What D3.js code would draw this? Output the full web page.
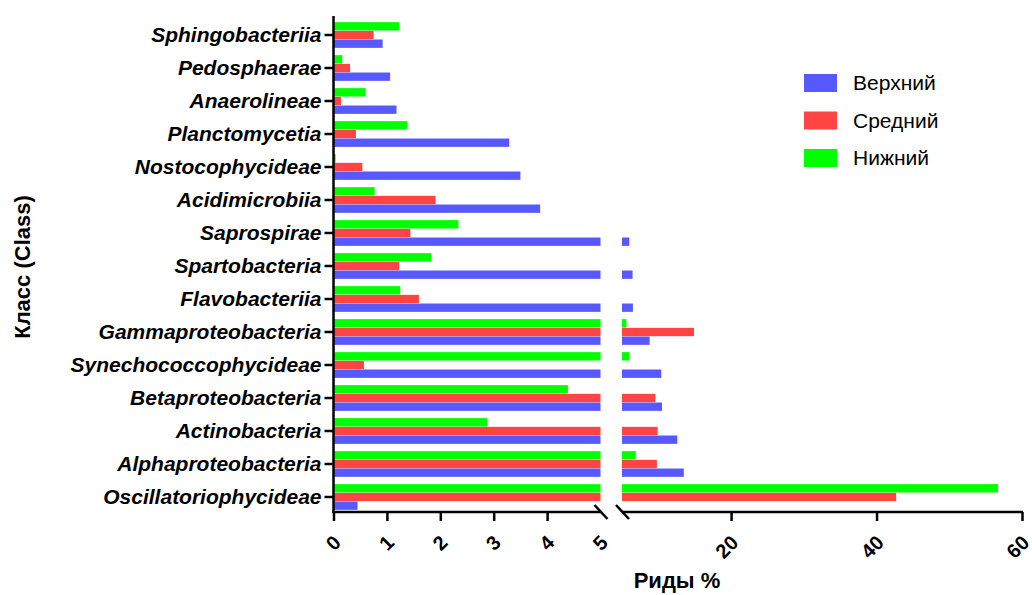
<!DOCTYPE html>
<html>
<head>
<meta charset="utf-8">
<script src="https://cdn.jsdelivr.net/npm/d3@7"></script>
<style>
  body { margin: 0; background: #fff; }
  text { font-family: "Liberation Sans", Arial, sans-serif; }
</style>
</head>
<body>
<div id="chart"></div>
<script>
// classes, top to bottom
var classes = ["Sphingobacteriia", "Pedosphaerae", "Anaerolineae", "Planctomycetia",
  "Nostocophycideae", "Acidimicrobiia", "Saprospirae", "Spartobacteria", "Flavobacteriia",
  "Gammaproteobacteria", "Synechococcophycideae", "Betaproteobacteria", "Actinobacteria",
  "Alphaproteobacteria", "Oscillatoriophycideae"];

// reads %, by layer
var verkhniy = [0.92, 1.06, 1.18, 3.29, 3.5, 3.87, 6.0, 6.45, 6.5, 8.8, 10.4, 10.5, 12.6, 13.5, 0.45];
var sredniy  = [0.75, 0.31, 0.14, 0.42, 0.54, 1.91, 1.44, 1.23, 1.6, 14.9, 0.57, 9.6, 9.9, 9.8, 42.7];
var nizhniy  = [1.23, 0.165, 0.6, 1.38, 0.04, 0.77, 2.34, 1.83, 1.25, 5.6, 6.0, 4.39, 2.88, 6.9, 56.7];

var seriesNames = ["Верхний", "Средний", "Нижний"];
var seriesColors = ["#5858ff", "#ff4444", "#00ff00"];
var seriesValues = [verkhniy, sredniy, nizhniy];

var ticks1 = [0, 1, 2, 3, 4, 5];
var ticks2 = [20, 40, 60];
var breakAt = 5;

var width = 1032, height = 595;
var svg = d3.select("#chart").append("svg")
    .attr("width", width)
    .attr("height", height);

var x1 = d3.scaleLinear().domain([0, breakAt]).range([333.5, 600.5]);
var x2 = d3.scaleLinear().domain([breakAt, 60]).range([622, 1022]);
var axisY = 512;

var y = d3.scaleBand()
    .domain(classes)
    .range([18.5, 513.5])
    .paddingInner(0.2)
    .paddingOuter(0.1);

// green on top, then red, then blue
var ySub = d3.scaleBand()
    .domain(["Нижний", "Средний", "Верхний"])
    .range([0, y.bandwidth()])
    .padding(0.04);

var bars = [];
classes.forEach(function(c, i) {
  seriesNames.forEach(function(s, j) {
    bars.push({cls: c, series: s, value: seriesValues[j][i], color: seriesColors[j]});
  });
});

var gBars = svg.append("g");
// first segment 0..5
gBars.selectAll("rect.seg1")
  .data(bars)
  .enter()
  .append("rect")
    .attr("class", "seg1")
    .attr("x", x1(0))
    .attr("y", function(d) { return y(d.cls) + ySub(d.series); })
    .attr("width", function(d) { return x1(Math.min(d.value, breakAt)) - x1(0); })
    .attr("height", ySub.bandwidth())
    .attr("fill", function(d) { return d.color; });

// second segment 5..60
gBars.selectAll("rect.seg2")
  .data(bars.filter(function(d) { return d.value > breakAt; }))
  .enter()
  .append("rect")
    .attr("class", "seg2")
    .attr("x", x2(breakAt))
    .attr("y", function(d) { return y(d.cls) + ySub(d.series); })
    .attr("width", function(d) { return x2(d.value) - x2(breakAt); })
    .attr("height", ySub.bandwidth())
    .attr("fill", function(d) { return d.color; });

// Y axis
var yAxis = svg.append("g")
    .attr("transform", "translate(" + x1(0) + ",0)")
    .call(d3.axisLeft(y).tickSize(9).tickPadding(3).tickSizeOuter(0));
yAxis.select(".domain").attr("stroke-width", 2.5).attr("d", "M0,16V" + (axisY + 1));
yAxis.selectAll(".tick").attr("transform", function(d) {
  return "translate(0," + (y(d) + ySub("Средний") + ySub.bandwidth() / 2) + ")";
});
yAxis.selectAll(".tick line").attr("stroke-width", 2.5);
yAxis.selectAll("text")
    .style("font-size", "21px")
    .style("font-weight", "bold")
    .style("font-style", "italic")
    .attr("fill", "#000");

// X axis, first part
var xa1 = svg.append("g")
    .attr("transform", "translate(0," + axisY + ")")
    .call(d3.axisBottom(x1).tickValues(ticks1).tickFormat(d3.format("d")).tickSize(9).tickSizeOuter(0));
xa1.select(".domain").attr("stroke-width", 2.5).attr("d", "M" + (x1(0) - 1) + ",0H" + x1(breakAt));
xa1.selectAll(".tick line").attr("stroke-width", 2.5);
xa1.selectAll(".tick line").filter(function(d) { return d === breakAt; }).remove();

// X axis, second part
var xa2 = svg.append("g")
    .attr("transform", "translate(0," + axisY + ")")
    .call(d3.axisBottom(x2).tickValues(ticks2).tickFormat(d3.format("d")).tickSize(9).tickSizeOuter(0));
xa2.select(".domain").attr("stroke-width", 2.5).attr("d", "M" + x2(breakAt) + ",0H" + (x2(60) + 1));
xa2.selectAll(".tick line").attr("stroke-width", 2.5);

[xa1, xa2].forEach(function(g) {
  g.selectAll(".tick text")
    .attr("y", 0)
    .attr("dy", 0)
    .attr("transform", "translate(8,32)rotate(-45)")
    .style("text-anchor", "end")
    .style("font-size", "20px")
    .style("font-weight", "bold")
    .attr("fill", "#000");
});

// break marks
var gBreak = svg.append("g").attr("stroke", "#000").attr("stroke-width", 2.5);
[x1(breakAt), x2(breakAt)].forEach(function(bx) {
  gBreak.append("line")
    .attr("x1", bx - 6).attr("y1", axisY - 7)
    .attr("x2", bx + 7).attr("y2", axisY + 7);
});

// axis titles
svg.append("text")
    .attr("x", 677)
    .attr("y", 588)
    .attr("text-anchor", "middle")
    .style("font-size", "22px")
    .style("font-weight", "bold")
    .text("Риды %");

svg.append("text")
    .attr("transform", "translate(30,267)rotate(-90)")
    .attr("text-anchor", "middle")
    .style("font-size", "22px")
    .style("font-weight", "bold")
    .text("Класс (Class)");

// legend
var legend = svg.append("g").attr("transform", "translate(804,74)");
seriesNames.forEach(function(s, i) {
  var row = legend.append("g").attr("transform", "translate(0," + (i * 37.5) + ")");
  row.append("rect")
    .attr("width", 33)
    .attr("height", 18)
    .attr("fill", seriesColors[i]);
  row.append("text")
    .attr("x", 49)
    .attr("y", 9)
    .attr("dy", "0.35em")
    .style("font-size", "21px")
    .text(s);
});
</script>
</body>
</html>
